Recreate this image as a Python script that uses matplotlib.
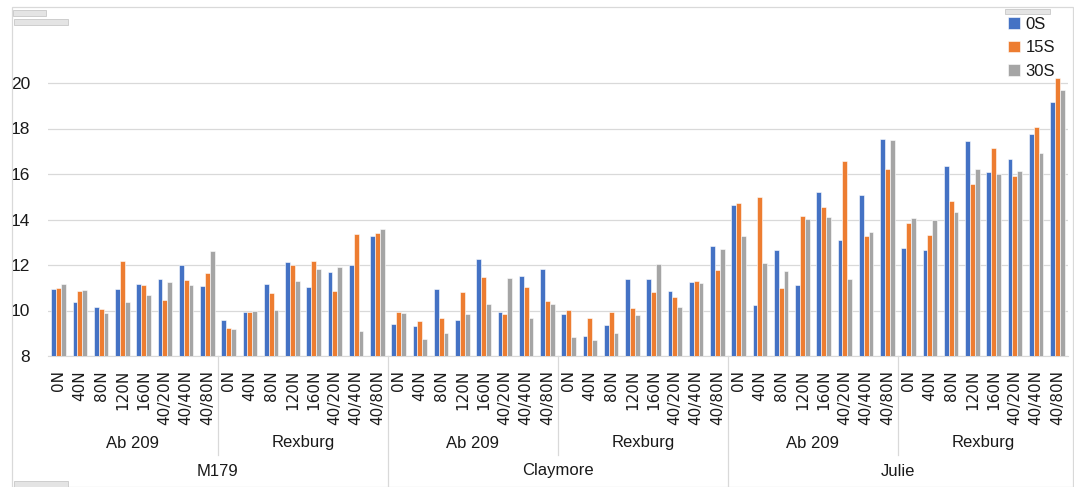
import matplotlib

matplotlib.use("Agg")
import matplotlib.pyplot as plt
import matplotlib.transforms as mtransforms
from matplotlib.patches import Rectangle
import numpy as np

VARIEDADES = ["M179", "Claymore", "Julie"]
LOCAIS = ["Ab 209", "Rexburg"]
NIVEIS_N = ["0N", "40N", "80N", "120N", "160N", "40/20N", "40/40N", "40/80N"]
SERIES = ["0S", "15S", "30S"]
CORES = ["#4472C4", "#ED7D31", "#A5A5A5"]

# valores, na ordem variedade > local > nivel de N
s0 = [
    10.93, 10.37, 10.14, 10.95, 11.15, 11.37, 12.01, 11.09,  # M179 Ab 209
    9.57, 9.95, 11.15, 12.13, 11.03, 11.68, 12.01, 13.29,    # M179 Rexburg
    9.41, 9.33, 10.95, 9.57, 12.25, 9.92, 11.52, 11.82,      # Claymore Ab 209
    9.85, 8.88, 9.38, 11.37, 11.37, 10.87, 11.25, 12.84,     # Claymore Rexburg
    14.64, 10.23, 12.64, 11.11, 15.21, 13.10, 15.06, 17.55,  # Julie Ab 209
    12.75, 12.67, 16.34, 17.44, 16.09, 16.66, 17.74, 19.16,  # Julie Rexburg
]
s15 = [
    10.99, 10.86, 10.08, 12.16, 11.11, 10.45, 11.33, 11.65,
    9.22, 9.92, 10.75, 11.99, 12.16, 10.87, 13.36, 13.41,
    9.92, 9.52, 9.66, 10.80, 11.49, 9.86, 11.03, 10.42,
    10.02, 9.66, 9.92, 10.10, 10.83, 10.58, 11.28, 11.79,
    14.71, 14.97, 10.99, 14.17, 14.53, 16.56, 13.26, 16.21,
    13.86, 13.32, 14.80, 15.56, 17.13, 15.91, 18.07, 20.23,
]
s30 = [
    11.16, 10.90, 9.88, 10.37, 10.68, 11.25, 11.11, 12.60,
    9.19, 9.98, 10.02, 11.30, 11.82, 11.91, 9.10, 13.57,
    9.88, 8.75, 9.00, 9.85, 10.27, 11.41, 9.67, 10.29,
    8.84, 8.72, 9.03, 9.80, 12.03, 10.15, 11.22, 12.69,
    13.29, 12.09, 11.75, 14.02, 14.11, 11.37, 13.45, 17.51,
    14.05, 13.98, 14.33, 16.21, 16.01, 16.13, 16.92, 19.71,
]
valores = [s0, s15, s30]

W, H = 1074, 487
CINZA = "#D9D9D9"
TEXTO = "#1A1A1A"

fig = plt.figure(figsize=(W / 100, H / 100), dpi=100)
ax = fig.add_axes([48 / W, 1 - 356 / H, 1020 / W, 349 / H])

n_cat = len(VARIEDADES) * len(LOCAIS) * len(NIVEIS_N)
x = np.arange(n_cat)
larg = 0.225
for i, (nome, cor, v) in enumerate(zip(SERIES, CORES, valores)):
    ax.bar(x + (i - 1) * larg, v, width=larg, color=cor, edgecolor="white",
           linewidth=0.4, label=nome, zorder=3)

ax.set_xlim(-0.5, n_cat - 0.5)
ax.set_ylim(8, 8 + 349 / 22.75)
ax.set_yticks(np.arange(8, 21, 2))
ax.yaxis.grid(True, color=CINZA, linewidth=0.9, zorder=0)
for lado in ["top", "right", "left"]:
    ax.spines[lado].set_visible(False)
ax.spines["bottom"].set_color(CINZA)
ax.tick_params(axis="y", length=0, pad=13, labelsize=12.5, labelcolor=TEXTO)
for t in ax.get_yticklabels():
    t.set_fontfamily("Liberation Sans")
ax.set_xticks(x)
ax.set_xticklabels(NIVEIS_N * (len(VARIEDADES) * len(LOCAIS)), rotation=90,
                   fontsize=11, fontfamily="DejaVu Sans", color=TEXTO)
ax.tick_params(axis="x", length=0, pad=10)

# rotulos hierarquicos e separadores
trans = mtransforms.blended_transform_factory(ax.transData, fig.transFigure)
n_niv = len(NIVEIS_N)
for vi, var in enumerate(VARIEDADES):
    for li, loc in enumerate(LOCAIS):
        ini = (vi * len(LOCAIS) + li) * n_niv
        ax.text(ini + n_niv / 2 - 0.5, 1 - 443 / H, loc, transform=trans,
                ha="center", va="center", fontsize=12,
                fontfamily="Liberation Sans", color=TEXTO)
        fim = ini + n_niv - 0.5
        if fim < n_cat - 1:
            y_fim = 455 if li == 0 else H
            ax.plot([fim, fim], [1 - 356 / H, 1 - y_fim / H], transform=trans,
                    color=CINZA, linewidth=0.9, clip_on=False)
    centro = (vi + 0.5) * len(LOCAIS) * n_niv - 0.5
    ax.text(centro, 1 - 471 / H, var, transform=trans, ha="center",
            va="center", fontsize=12, fontfamily="Liberation Sans",
            color=TEXTO)

fig.legend(loc="upper left", bbox_to_anchor=(1008 / W, 1 - 17 / H),
           frameon=False, borderpad=0, borderaxespad=0,
           handlelength=0.7, handleheight=0.7, handletextpad=0.35,
           labelspacing=0.5, labelcolor=TEXTO,
           prop={"family": "Liberation Sans", "size": 12})

# borda do grafico e botoes do pivot
fig.patches.append(Rectangle((12 / W, 0), 1 - 13 / W, 1 - 7 / H,
                             transform=fig.transFigure, fill=False,
                             edgecolor=CINZA, linewidth=0.9))
for (bx, by, bw, bh) in [(13, 10, 33, 6), (14, 19, 54, 6), (14, 481, 54, 6),
                         (1005, 9, 45, 5)]:
    fig.patches.append(Rectangle((bx / W, 1 - (by + bh) / H), bw / W, bh / H,
                                 transform=fig.transFigure, facecolor="#E4E4E4",
                                 edgecolor="#BFBFBF", linewidth=0.5))

fig.savefig("out.png", dpi=100)
